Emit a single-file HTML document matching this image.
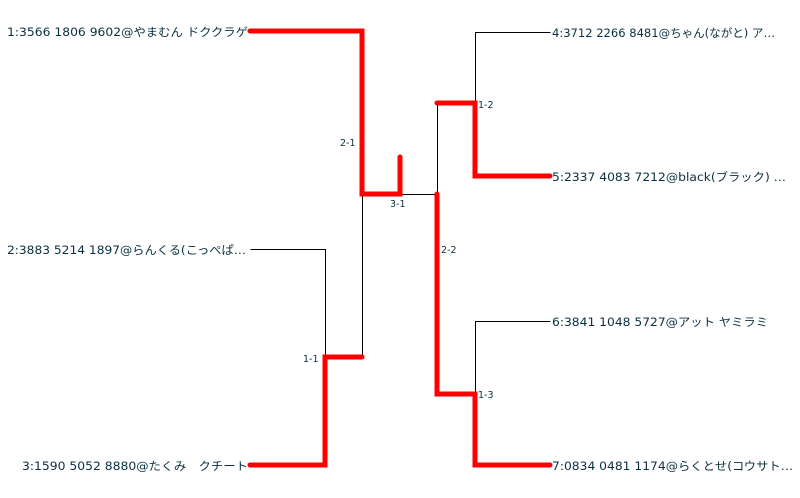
<!DOCTYPE html>
<html><head><meta charset="utf-8"><style>
html,body{margin:0;padding:0;background:#fff;width:800px;height:498px;overflow:hidden}
svg text{font-family:"DejaVu Sans","Liberation Sans","Noto Sans CJK JP",sans-serif;fill:#0a3040}
</style></head><body>
<svg width="800" height="498" xmlns="http://www.w3.org/2000/svg">
<g stroke="#000" stroke-width="1" fill="none" shape-rendering="crispEdges">
<polyline points="362.5,194.5 362.5,357.5"/>
<polyline points="400.5,194.5 437.5,194.5 437.5,103.5"/>
<polyline points="475.5,103.5 475.5,32.5 550.5,32.5"/>
<polyline points="250.5,249.5 325.5,249.5 325.5,357.5"/>
<polyline points="475.5,394.5 475.5,321.5 550.5,321.5"/>
</g>
<g stroke="#ff0000" stroke-width="5" fill="none" stroke-linecap="round" stroke-linejoin="miter">
<polyline points="250,31 362,31 362,194 400,194 400,157"/>
<polyline points="437,103 475,103 475,176 550,176"/>
<polyline points="437,194 437,394 475,394 475,465 550,465"/>
<polyline points="362,357 325,357 325,465 250,465"/>
</g>
<g font-size="11.5">
<text x="7" y="36" textLength="241" lengthAdjust="spacingAndGlyphs">1:3566 1806 9602@やまむん ドククラゲ</text>
<text x="7" y="254" textLength="239" lengthAdjust="spacingAndGlyphs">2:3883 5214 1897@らんくる(こっぺぱ…</text>
<text x="22" y="470" textLength="226" lengthAdjust="spacingAndGlyphs">3:1590 5052 8880@たくみ　クチート</text>
<text x="552" y="37" textLength="223" lengthAdjust="spacingAndGlyphs">4:3712 2266 8481@ちゃん(ながと) ア…</text>
<text x="552" y="181" textLength="234" lengthAdjust="spacingAndGlyphs">5:2337 4083 7212@black(ブラック) …</text>
<text x="552" y="326" textLength="216" lengthAdjust="spacingAndGlyphs">6:3841 1048 5727@アット ヤミラミ</text>
<text x="552" y="470" textLength="241" lengthAdjust="spacingAndGlyphs">7:0834 0481 1174@らくとせ(コウサト…</text>
</g>
<g font-size="9.5">
<text x="340" y="146">2-1</text>
<text x="390" y="207">3-1</text>
<text x="478" y="108">1-2</text>
<text x="441" y="253">2-2</text>
<text x="303" y="362">1-1</text>
<text x="478" y="398">1-3</text>
</g>
</svg>
</body></html>
